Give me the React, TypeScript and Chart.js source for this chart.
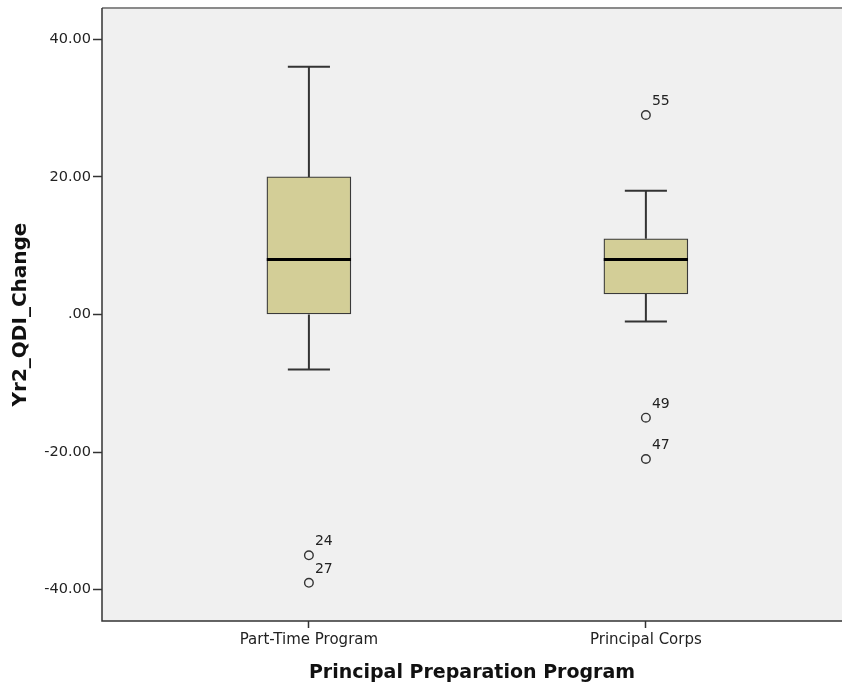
import React, { useEffect, useRef } from "react";
import { Chart, registerables } from "chart.js";

Chart.register(...registerables);

const categories = ["Part-Time Program", "Principal Corps"];
const whiskerLow = [-8, -1];
const q1 = [0, 3];
const median = [8, 8];
const q3 = [20, 11];
const whiskerHigh = [36, 18];
const outlierGroup = [1, 1, 2, 2, 2];
const outlierValues = [-35, -39, 29, -15, -21];
const outlierLabels = ["24", "27", "55", "49", "47"];
const yTickValues = [-40, -20, 0, 20, 40];
const yTickLabels = ["-40.00", "-20.00", ".00", "20.00", "40.00"];

const BOX_HALF = 0.125;
const CAP_HALF = 0.0625;

function buildWhiskers() {
  const pts: any[] = [];
  categories.forEach((_, i) => {
    const x = i + 1;
    pts.push({ x, y: q3[i] }, { x, y: whiskerHigh[i] }, { x, y: null });
    pts.push({ x: x - CAP_HALF, y: whiskerHigh[i] }, { x: x + CAP_HALF, y: whiskerHigh[i] }, { x, y: null });
    pts.push({ x, y: q1[i] }, { x, y: whiskerLow[i] }, { x, y: null });
    pts.push({ x: x - CAP_HALF, y: whiskerLow[i] }, { x: x + CAP_HALF, y: whiskerLow[i] }, { x, y: null });
  });
  return pts;
}

function buildMedians() {
  const pts: any[] = [];
  categories.forEach((_, i) => {
    const x = i + 1;
    pts.push({ x: x - BOX_HALF, y: median[i] }, { x: x + BOX_HALF, y: median[i] }, { x, y: null });
  });
  return pts;
}

const plotBg = {
  id: "plotBg",
  beforeDraw(chart: any) {
    const { ctx, chartArea: a } = chart;
    ctx.save();
    ctx.fillStyle = "#f0f0f0";
    ctx.fillRect(a.left, a.top, a.right - a.left, a.bottom - a.top);
    ctx.restore();
  },
  afterDraw(chart: any) {
    const { ctx, chartArea: a } = chart;
    ctx.save();
    ctx.strokeStyle = "#8a8a8a";
    ctx.lineWidth = 2;
    ctx.beginPath();
    ctx.moveTo(a.left, a.top);
    ctx.lineTo(a.right, a.top);
    ctx.stroke();
    ctx.strokeStyle = "#333";
    ctx.lineWidth = 1.5;
    ctx.beginPath();
    ctx.moveTo(a.left, a.top);
    ctx.lineTo(a.left, a.bottom);
    ctx.lineTo(a.right, a.bottom);
    ctx.stroke();
    ctx.restore();
  },
};

const outlierText = {
  id: "outlierText",
  afterDatasetsDraw(chart: any) {
    const meta = chart.getDatasetMeta(3);
    const { ctx } = chart;
    ctx.save();
    ctx.font = "14px 'DejaVu Sans'";
    ctx.fillStyle = "#222";
    ctx.textAlign = "left";
    ctx.textBaseline = "alphabetic";
    meta.data.forEach((el: any, i: number) => {
      ctx.fillText(outlierLabels[i], el.x + 6, el.y - 10);
    });
    ctx.restore();
  },
};

export default function App() {
  const ref = useRef<HTMLCanvasElement>(null);
  useEffect(() => {
    document.body.style.margin = "0";
    const chart = new Chart(ref.current!, {
      type: "bar",
      data: {
        datasets: [
          {
            type: "bar",
            data: categories.map((_, i) => ({ x: i + 1, y: [q1[i], q3[i]] })) as any,
            backgroundColor: "#d3ce97",
            borderColor: "#3a3a3a",
            borderWidth: 1.3,
            borderSkipped: false,
            barThickness: 84,
            order: 4,
          } as any,
          {
            type: "line",
            data: buildWhiskers(),
            borderColor: "#333",
            borderWidth: 2,
            pointRadius: 0,
            spanGaps: false,
            order: 5,
          } as any,
          {
            type: "line",
            data: buildMedians(),
            borderColor: "#000",
            borderWidth: 3,
            pointRadius: 0,
            spanGaps: false,
            order: 1,
          } as any,
          {
            type: "line",
            data: outlierValues.map((v, i) => ({ x: outlierGroup[i], y: v })),
            showLine: false,
            pointStyle: "circle",
            pointRadius: 4.3,
            pointBorderWidth: 1.4,
            pointBorderColor: "#333",
            pointBackgroundColor: "rgba(0,0,0,0)",
            order: 0,
          } as any,
        ],
      },
      options: {
        animation: false,
        responsive: false,
        devicePixelRatio: 1,
        layout: { padding: { top: 8, right: 0, left: 0, bottom: 0 }, autoPadding: false },
        plugins: { legend: { display: false }, tooltip: { enabled: false } },
        scales: {
          x: {
            type: "linear",
            min: 0.386,
            max: 2.582,
            offset: false,
            afterBuildTicks(scale: any) {
              scale.ticks = categories.map((_, i) => ({ value: i + 1 }));
            },
            afterFit(scale: any) {
              scale.height = 66;
              scale.paddingLeft = 0;
              scale.paddingRight = 0;
            },
            ticks: {
              autoSkip: false,
              maxRotation: 0,
              padding: 3,
              color: "#222",
              font: { family: "'DejaVu Sans'", size: 15 },
              callback: (v: any) => categories[Number(v) - 1] ?? "",
            },
            grid: { drawOnChartArea: false, offset: false, tickLength: 7, color: "#333", tickWidth: 1.5 },
            border: { display: false },
            title: {
              display: true,
              text: "Principal Preparation Program",
              color: "#111",
              font: { family: "'DejaVu Sans'", size: 19, weight: "bold" },
              padding: { top: 0, bottom: 3 },
            },
          },
          y: {
            type: "linear",
            min: -44.55,
            max: 44.55,
            afterBuildTicks(scale: any) {
              scale.ticks = yTickValues.map((v) => ({ value: v }));
            },
            afterFit(scale: any) {
              scale.width = 102;
              scale.paddingTop = 0;
              scale.paddingBottom = 0;
            },
            ticks: {
              padding: 2,
              color: "#222",
              font: { family: "'DejaVu Sans'", size: 14.5 },
              callback: (v: any) => yTickLabels[yTickValues.indexOf(Number(v))] ?? "",
            },
            grid: { drawOnChartArea: false, offset: false, tickLength: 9, color: "#333", tickWidth: 1.5 },
            border: { display: false },
            title: {
              display: true,
              text: "Yr2_QDI_Change",
              color: "#111",
              font: { family: "'DejaVu Sans'", size: 20, weight: "bold" },
              padding: { top: 9, bottom: 0 },
            },
          },
        },
      },
      plugins: [plotBg, outlierText],
    });
    return () => chart.destroy();
  }, []);
  return (
    <div style={{ width: 842, height: 687 }}>
      <canvas ref={ref} width={842} height={687} />
    </div>
  );
}
